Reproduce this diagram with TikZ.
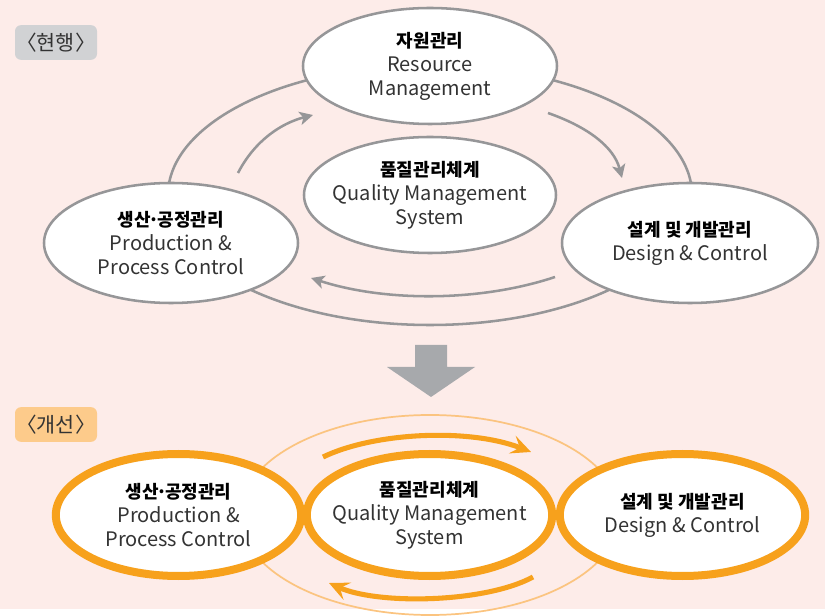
\documentclass[tikz,border=0pt]{standalone}
\usepackage{fontspec}
\setmainfont{Noto Sans CJK KR}
\usetikzlibrary{shapes.geometric,arrows.meta}

\definecolor{bgpink}{RGB}{253,236,233}
\definecolor{linegray}{RGB}{150,150,152}
\definecolor{arrowgray}{RGB}{167,169,172}
\definecolor{taggray}{RGB}{209,210,212}
\definecolor{textdark}{RGB}{51,51,51}
\definecolor{qorange}{RGB}{247,161,28}
\definecolor{lightorange}{RGB}{251,196,128}
\definecolor{tagorange}{RGB}{253,203,139}

\newcommand{\ktitle}[1]{{\fontsize{13.5}{18}\selectfont\bfseries\color{black}#1}}
\newcommand{\middot}{\kern-0.12em·\kern-0.12em}

\tikzset{
  boxtext/.style={align=center,text=textdark,inner sep=0pt,
    font=\fontsize{15}{18}\selectfont},
  oldbox/.style={ellipse,draw=linegray,line width=1.9pt,fill=white,inner sep=0pt},
  newbox/.style={ellipse,draw=qorange,line width=6pt,fill=white,inner sep=0pt,
    minimum width=184pt,minimum height=91.5pt},
  tagbox/.style={rounded corners=4.5pt,inner sep=0pt,minimum width=61.5pt,
    minimum height=26pt,text=textdark,font=\fontsize{15.5}{18}\selectfont},
  cyclearrow/.style={draw=linegray,line width=1.9pt,
    -{Stealth[length=10pt,width=10pt,inset=2.5pt]}},
  flowarrow/.style={draw=qorange,line width=3.8pt,
    -{Stealth[length=15pt,width=14pt,inset=6pt]}}
}

\begin{document}
\begin{tikzpicture}[x=0.75pt,y=-0.75pt]
\fill[bgpink] (0,0) rectangle (825,609);

% ---- current state
\node[tagbox,fill=taggray] (curtag) at (56,42.5) {〈현행〉};

\draw[linegray,line width=1.9pt] (430,195) ellipse [x radius=262,y radius=130];

\node[oldbox,minimum width=190.5pt,minimum height=87pt,
  label={[boxtext]center:\ktitle{자원관리}\\Resource\\Management}] (res) at (430,66) {};
\node[oldbox,minimum width=189pt,minimum height=87pt,
  label={[boxtext]center:\ktitle{품질관리체계}\\Quality Management\\System}] (qms) at (430,195) {};
\node[oldbox,minimum width=190.5pt,minimum height=90pt,
  label={[boxtext]center:\ktitle{생산\middot 공정관리}\\Production \&\\Process Control}] (prod) at (171,243) {};
\node[oldbox,minimum width=192pt,minimum height=90pt,
  label={[boxtext]center:\ktitle{설계 및 개발관리}\\Design \& Control}] (des) at (690,243) {};

\coordinate (ul0) at (238,173);
\coordinate (ul1) at (313,115);
\coordinate (ur0) at (548,113);
\coordinate (ur1) at (622,178);
\coordinate (lo0) at (555,277);
\coordinate (lo1) at (311,278);
\draw[cyclearrow] (ul0) .. controls (255,140) and (282,123) .. (ul1);
\draw[cyclearrow] (ur0) .. controls (588,127) and (614,147) .. (ur1);
\draw[cyclearrow] (lo0) .. controls (480,302) and (385,302) .. (lo1);

% ---- transition
\fill[arrowgray] (415,345) -- (447,345) -- (447,367) -- (475,367) -- (431,397)
  -- (387,367) -- (415,367) -- cycle;

% ---- improved state
\node[tagbox,fill=tagorange] (newtag) at (56,424.5) {〈개선〉};

\draw[lightorange,line width=1.3pt] (430,515) ellipse [x radius=190,y radius=100];

\node[newbox,label={[boxtext]center:\ktitle{생산\middot 공정관리}\\Production \&\\Process Control}]
  (bprod) at (178.5,515) {};
\node[newbox,label={[boxtext]center:\ktitle{품질관리체계}\\Quality Management\\System}]
  (bqms) at (429.5,515) {};
\node[newbox,label={[boxtext]center:\ktitle{설계 및 개발관리}\\Design \& Control}]
  (bdes) at (682.5,515) {};

\coordinate (tp0) at (323,457);
\coordinate (tp1) at (531,452);
\coordinate (bt0) at (533,577);
\coordinate (bt1) at (329,583);
\draw[flowarrow] (tp0) .. controls (375,432) and (470,428) .. (tp1);
\draw[flowarrow] (bt0) .. controls (485,603) and (378,605) .. (bt1);
\end{tikzpicture}
\end{document}
